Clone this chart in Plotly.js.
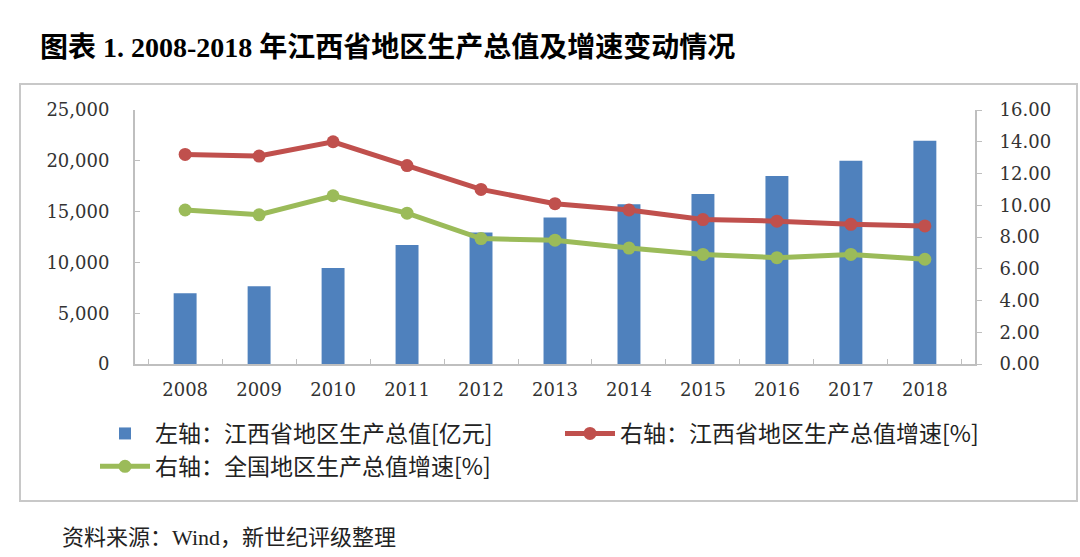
<!DOCTYPE html>
<html>
<head>
<meta charset="utf-8">
<script src="https://cdn.plot.ly/plotly-3.0.1.min.js"></script>
<style>
html,body{margin:0;padding:0;background:#fff;}
#chart{width:1080px;height:557px;}
</style>
</head>
<body>
<div id="chart"></div>
<script>
// ---- data ----
const years = ["2008","2009","2010","2011","2012","2013","2014","2015","2016","2017","2018"];
const gdpJiangxi = [6971, 7655, 9451, 11702, 12948, 14410, 15714, 16723, 18499, 20006, 21985];
const growthJiangxi = [13.2, 13.1, 14.0, 12.5, 11.0, 10.1, 9.7, 9.1, 9.0, 8.8, 8.7];
const growthNational = [9.7, 9.4, 10.6, 9.5, 7.9, 7.8, 7.3, 6.9, 6.7, 6.9, 6.6];
const seriesNames = ["左轴：江西省地区生产总值[亿元]", "右轴：江西省地区生产总值增速[%]", "右轴：全国地区生产总值增速[%]"];
const titleText = "图表 1. 2008-2018 年江西省地区生产总值及增速变动情况";
const sourceText = "资料来源：Wind，新世纪评级整理";

// ---- layout constants (pixels) ----
const W = 1080, H = 557;
const plotL = 135, plotR = 975, plotT = 110, plotB = 364;
const pw = plotR - plotL, ph = plotB - plotT;
const px = v => (v - plotL) / pw;
const py = v => (plotB - v) / ph;

const tickFont = {family: "DejaVu Serif, Liberation Serif, serif", size: 18, color: "#333"};
const cjkFont = "Noto Sans CJK SC, sans-serif";

const traces = [
  {
    type: "bar", x: years, y: gdpJiangxi, name: seriesNames[0],
    marker: {color: "#4F81BD"}, yaxis: "y", hoverinfo: "x+y"
  },
  {
    type: "scatter", mode: "lines+markers", x: years, y: growthJiangxi, name: seriesNames[1],
    line: {color: "#C0504D", width: 5}, marker: {color: "#C0504D", size: 13}, yaxis: "y2"
  },
  {
    type: "scatter", mode: "lines+markers", x: years, y: growthNational, name: seriesNames[2],
    line: {color: "#9BBB59", width: 5}, marker: {color: "#9BBB59", size: 13}, yaxis: "y2"
  }
];

const layout = {
  width: W, height: H,
  margin: {l: plotL, r: W - plotR, t: plotT, b: H - plotB, pad: 0},
  paper_bgcolor: "#fff", plot_bgcolor: "rgba(0,0,0,0)",
  bargap: 0.69,
  showlegend: true,
  title: {
    text: "<b>" + titleText + "</b>",
    x: 40 / W, xanchor: "left", xref: "container",
    y: 1 - 47 / H, yanchor: "middle", yref: "container",
    font: {family: "Liberation Serif, " + cjkFont, size: 28, color: "#000"}
  },
  xaxis: {
    type: "category", showline: true, linecolor: "#BFBFBF", linewidth: 2,
    ticks: "inside", tickson: "boundaries", ticklen: 5, tickcolor: "#BFBFBF",
    showgrid: false, zeroline: false, tickfont: tickFont, ticklabelstandoff: 8,
    fixedrange: true
  },
  yaxis: {
    range: [0, 25000], dtick: 5000, tickformat: ",d",
    showline: true, linecolor: "#BFBFBF", linewidth: 2,
    ticks: "inside", ticklen: 5, tickcolor: "#BFBFBF",
    showgrid: false, zeroline: false, tickfont: tickFont, ticklabelstandoff: 20
  },
  yaxis2: {
    range: [0, 16], dtick: 2, tickformat: ".2f", overlaying: "y", side: "right",
    showline: true, linecolor: "#BFBFBF", linewidth: 2,
    ticks: "outside", ticklen: 5, tickcolor: "#BFBFBF",
    showgrid: false, zeroline: false, tickfont: tickFont, ticklabelstandoff: 14
  },
  legend: {
    orientation: "h", x: px(95), xanchor: "left", y: py(412), yanchor: "top",
    font: {family: cjkFont, size: 23, color: "#222"},
    entrywidth: 400, entrywidthmode: "pixels",
    bgcolor: "rgba(0,0,0,0)", itemwidth: 50, traceorder: "normal"
  },
  shapes: [
    {type: "rect", xref: "paper", yref: "paper", x0: px(20), x1: px(1077), y0: py(501), y1: py(84),
     line: {color: "#C8C8C8", width: 2}, fillcolor: "rgba(0,0,0,0)", layer: "below"}
  ],
  annotations: [
    {text: sourceText, xref: "paper", yref: "paper", x: px(60), y: py(537),
     xanchor: "left", yanchor: "middle", showarrow: false,
     font: {family: "Liberation Serif, " + cjkFont, size: 22, color: "#222"}}
  ]
};

Plotly.newPlot("chart", traces, layout, {displayModeBar: false, staticPlot: true});
</script>
</body>
</html>
